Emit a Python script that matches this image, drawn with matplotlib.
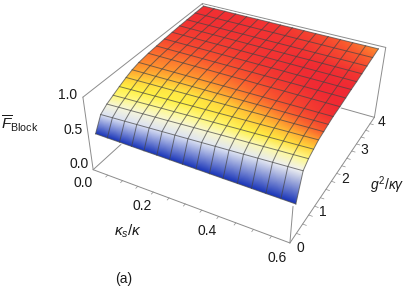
import numpy as np
import matplotlib
matplotlib.use("Agg")
import matplotlib.pyplot as plt
from matplotlib.colors import LinearSegmentedColormap

plt.rcParams['font.family'] = ['Liberation Sans', 'DejaVu Sans']
plt.rcParams['mathtext.fontset'] = 'custom'
plt.rcParams['mathtext.rm'] = 'Liberation Sans'
plt.rcParams['mathtext.it'] = 'Liberation Sans:italic'

kappa = [0.01, 0.049, 0.089, 0.128, 0.167, 0.207, 0.246, 0.285,
         0.325, 0.364, 0.403, 0.443, 0.482, 0.521, 0.561, 0.60]
gval = [0.12, 0.32, 0.52, 0.72, 0.92, 1.14, 1.34, 1.56,
        1.88, 2.16, 2.44, 2.72, 3.0, 3.28, 3.6, 3.94]

# fidelity, rows = gval, columns = kappa
fid = np.array([
    [.480, .479, .479, .478, .477, .477, .476, .475, .475, .474, .473, .473, .472, .471, .471, .470],
    [.665, .674, .683, .692, .701, .710, .719, .728, .737, .746, .755, .764, .773, .782, .791, .800],
    [.730, .739, .747, .756, .765, .773, .782, .791, .799, .808, .817, .825, .834, .843, .851, .860],
    [.775, .783, .790, .798, .806, .813, .821, .829, .836, .844, .852, .859, .867, .875, .882, .890],
    [.820, .827, .833, .840, .847, .853, .860, .867, .873, .880, .887, .893, .900, .907, .913, .920],
    [.865, .869, .874, .878, .882, .887, .891, .895, .900, .904, .908, .913, .917, .921, .926, .930],
    [.900, .903, .905, .908, .911, .913, .916, .919, .921, .924, .927, .929, .932, .935, .937, .940],
    [.925, .927, .928, .930, .932, .933, .935, .937, .938, .940, .942, .943, .945, .947, .948, .950],
    [.945, .945, .946, .946, .946, .947, .947, .947, .948, .948, .948, .949, .949, .949, .950, .950],
    [.955, .955, .955, .955, .955, .955, .955, .955, .955, .955, .955, .955, .955, .955, .955, .955],
    [.965, .965, .964, .964, .964, .963, .963, .963, .962, .962, .962, .961, .961, .961, .960, .960],
    [.972, .971, .970, .969, .969, .968, .967, .966, .966, .965, .964, .963, .963, .962, .961, .960],
    [.978, .977, .976, .975, .974, .974, .973, .972, .971, .970, .969, .969, .968, .967, .966, .965],
    [.982, .981, .980, .979, .978, .978, .977, .976, .976, .975, .974, .973, .973, .972, .971, .970],
    [.986, .985, .984, .983, .983, .982, .981, .981, .980, .979, .979, .978, .977, .977, .976, .975],
    [.990, .989, .989, .988, .987, .987, .986, .985, .985, .984, .983, .983, .982, .981, .981, .980],
])

# colour level of the surface at the same nodes
shade = np.array([
    [.00, .00, .00, .00, .00, .00, .00, .00, .00, .00, .00, .00, .00, .00, .00, .00],
    [.28, .28, .28, .28, .28, .28, .28, .28, .29, .29, .29, .30, .30, .31, .32, .33],
    [.36, .36, .36, .36, .37, .37, .37, .37, .38, .39, .40, .41, .42, .44, .45, .47],
    [.48, .47, .46, .46, .46, .46, .46, .47, .48, .49, .51, .52, .54, .56, .58, .60],
    [.52, .52, .52, .52, .52, .52, .53, .54, .55, .57, .59, .61, .63, .66, .69, .72],
    [.62, .60, .58, .56, .55, .55, .56, .58, .60, .63, .66, .69, .73, .77, .81, .85],
    [.70, .68, .66, .65, .64, .64, .65, .67, .69, .72, .75, .78, .82, .85, .89, .92],
    [.75, .74, .73, .72, .72, .72, .73, .75, .77, .80, .83, .86, .89, .92, .95, .98],
    [.80, .79, .79, .78, .79, .80, .81, .83, .85, .87, .90, .92, .94, .96, .98, 1.0],
    [.84, .84, .84, .84, .85, .86, .87, .89, .91, .93, .95, .96, .98, .99, 1.0, 1.0],
    [.90, .90, .90, .90, .90, .91, .92, .94, .95, .96, .97, .98, .99, 1.0, 1.0, 1.0],
    [.93, .93, .93, .93, .93, .94, .95, .96, .97, .97, .98, .99, .99, .99, .98, .98],
    [.95, .95, .95, .95, .95, .95, .96, .96, .97, .97, .98, .98, .98, .97, .96, .95],
    [.97, .97, .97, .97, .97, .97, .97, .97, .97, .97, .96, .95, .94, .92, .90, .88],
    [.98, .98, .98, .98, .98, .97, .97, .97, .96, .95, .94, .92, .90, .88, .85, .82],
    [.98, .98, .98, .98, .97, .97, .96, .95, .94, .92, .90, .88, .85, .82, .78, .74],
])

ktick_labels = ["0.0", "0.2", "0.4", "0.6"]
gtick_labels = ["0", "1", "2", "3", "4"]
ftick_labels = ["0.0", "0.5", "1.0"]

cmap = LinearSegmentedColormap.from_list("fid", [
    (0.00, (0.09, 0.20, 0.72)), (0.12, (0.40, 0.50, 0.85)), (0.25, (0.80, 0.84, 0.96)),
    (0.33, (0.96, 0.96, 0.95)), (0.45, (1.00, 0.98, 0.60)), (0.52, (1.00, 0.95, 0.28)),
    (0.62, (1.00, 0.80, 0.22)), (0.72, (1.00, 0.60, 0.18)), (0.85, (0.98, 0.35, 0.18)),
    (1.00, (0.94, 0.16, 0.20))])

# box corners in the picture, used to get the camera
corners3d = [(0, 0, 0), (1, 0, 0), (1, 1, 0), (0, 1, 0), (0, 0, 1), (1, 1, 1), (0, 1, 1)]
corners2d = [(93, 168), (290, 244), (375, 115), (203, 72), (83, 98), (385, 49), (203, 1.5)]
A, b = [], []
for (x, y, z), (u, v) in zip(corners3d, corners2d):
    A.append([x, y, z, 1, 0, 0, 0, 0, -u * x, -u * y, -u * z])
    A.append([0, 0, 0, 0, x, y, z, 1, -v * x, -v * y, -v * z])
    b += [u, v]
cam = np.append(np.linalg.lstsq(np.array(A), np.array(b), rcond=None)[0], 1).reshape(3, 4)


def project(k, g, f):
    p = np.stack([np.asarray(k) / 0.6, np.asarray(g) / 4.0, np.asarray(f), np.ones_like(f)], -1)
    q = p @ cam.T
    return q[..., 0] / q[..., 2], q[..., 1] / q[..., 2]


K, G = np.meshgrid(kappa, gval)
# the sheet sits a little inside the box at the back
X, Y = project(K * (1 - 0.03 * G / 4), G, fid)

# gouraud at 1x leaves teeth in the blue row, so draw it big first and shrink
fig2 = plt.figure(figsize=(4.09, 2.89), dpi=400)
fig2.patch.set_alpha(0)
ax2 = fig2.add_axes([0, 0, 1, 1])
ax2.set_xlim(0, 409)
ax2.set_ylim(289, 0)
ax2.axis("off")
ax2.pcolormesh(X, Y, shade, cmap=cmap, vmin=0, vmax=1, shading="gouraud")
fig2.canvas.draw()
sheet = np.asarray(fig2.canvas.buffer_rgba()).copy()

fig = plt.figure(figsize=(4.09, 2.89), dpi=100)
ax = fig.add_axes([0, 0, 1, 1])


def edge(k, g, f, **kw):
    x, y = project(np.array(k, float), np.array(g, float), np.array(f, float))
    ax.plot(x, y, color="#8c8c8c", lw=0.7, solid_capstyle="round", **kw)


# back of the box
edge([0, 0], [0, 4], [0, 0], zorder=1)
edge([0, .6], [4, 4], [0, 0], zorder=1)
edge([0, 0], [4, 4], [0, 1], zorder=1)
edge([0, 0, .6], [0, 4, 4], [1, 1, 1], zorder=1)
edge([.6, .6], [4, 4], [0, 1], zorder=1)
edge([0, 0], [0, 0], [0, 1], zorder=1)
edge([0, .6], [0, 0], [0, 0], zorder=1)
edge([.6, .6], [0, 4], [0, 0], zorder=1)
edge([.6, .6], [0, 0], [0, .5], zorder=1)

# white rim round the sheet
rx = np.concatenate([X[0], X[:, -1], X[-1][::-1], X[:, 0][::-1]])
ry = np.concatenate([Y[0], Y[:, -1], Y[-1][::-1], Y[:, 0][::-1]])
ax.plot(rx, ry, color="white", lw=2.2, zorder=2)

ax.imshow(sheet, extent=(0, 409, 289, 0), aspect="auto", interpolation="hanning", zorder=3)
for i in range(X.shape[0]):
    ax.plot(X[i], Y[i], color="#444444", alpha=0.7, lw=0.7, zorder=4)
    ax.plot(X[:, i], Y[:, i], color="#444444", alpha=0.7, lw=0.7, zorder=4)

# small ticks on the g axis and the kappa axis
for t in np.arange(0.25, 4, 0.25):
    x, y = project(np.array([.6, .61]), np.array([t, t]), np.array([0., 0.]))
    ax.plot(x, y, color="#8c8c8c", lw=0.5, zorder=1)
for t in np.arange(0.05, 0.6, 0.05):
    x, y = project(np.array([t, t]), np.array([0., -.06]), np.array([0., 0.]))
    ax.plot(x, y, color="#8c8c8c", lw=0.5, zorder=1)

tk = dict(fontsize=10, color="#1a1a1a", ha="center", va="center")
for s, (x, y) in zip(ftick_labels, [(79, 164), (73, 130), (68, 95)]):
    ax.text(x, y, s, **tk)
for s, (x, y) in zip(ktick_labels, [(83, 183), (142, 206), (207, 231), (277, 258)]):
    ax.text(x, y, s, **tk)
for s, (x, y) in zip(gtick_labels, [(300, 248), (323, 212), (345, 179), (364, 150), (382, 122)]):
    ax.text(x, y, s, **tk)
ax.text(128, 231, r"$\kappa_s/\kappa$", fontsize=11, color="#1a1a1a", ha="center", va="center")
ax.text(387, 185, r"$g^2/\kappa\gamma$", **tk)
ax.text(20, 124, r"$\overline{F}_{\mathrm{Block}}$", fontsize=11, color="#1a1a1a", ha="center", va="center")
ax.text(124, 279, "(a)", **tk)

ax.set_xlim(0, 409)
ax.set_ylim(289, 0)
ax.axis("off")
fig.savefig("out.png", dpi=100)
